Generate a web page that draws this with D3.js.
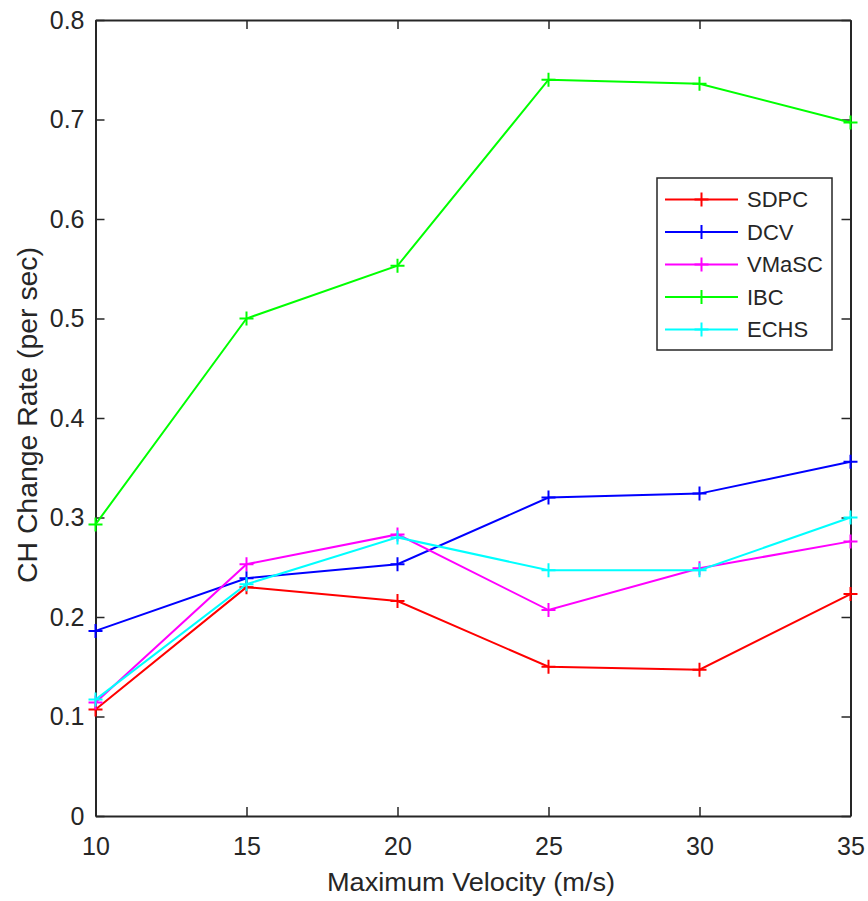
<!DOCTYPE html>
<html><head><meta charset="utf-8">
<script src="https://cdn.jsdelivr.net/npm/d3@7"></script>
<style>body{margin:0;background:#fff}svg{display:block}text{font-family:"Liberation Sans",Arial,Helvetica,sans-serif;fill:#262626}</style>
</head><body><svg id="c" width="868" height="901"></svg>
<script>
const velocities = [10, 15, 20, 25, 30, 35];
const seriesNames = ["SDPC", "DCV", "VMaSC", "IBC", "ECHS"];
const seriesColors = ["#ff0000", "#0000ff", "#ff00ff", "#00ff00", "#00ffff"];
const sdpc  = [0.107, 0.230, 0.216, 0.150, 0.147, 0.223];
const dcv   = [0.186, 0.239, 0.253, 0.320, 0.324, 0.356];
const vmasc = [0.114, 0.253, 0.283, 0.207, 0.249, 0.276];
const ibc   = [0.293, 0.500, 0.553, 0.740, 0.736, 0.697];
const echs  = [0.117, 0.233, 0.280, 0.247, 0.247, 0.300];
const xTicks = [10, 15, 20, 25, 30, 35];
const yTicks = [0, 0.1, 0.2, 0.3, 0.4, 0.5, 0.6, 0.7, 0.8];
const xTitle = "Maximum Velocity (m/s)";
const yTitle = "CH Change Rate (per sec)";

const seriesValues = [sdpc, dcv, vmasc, ibc, echs];
const svg = d3.select("#c");
const L = 95.5, R = 850.5, T = 20, B = 816;
const x = d3.scaleLinear().domain([10, 35]).range([L, R]);
const y = d3.scaleLinear().domain([0, 0.8]).range([B, T]);
const axisColor = "#262626";

// axes (ticks inward)
const gB = svg.append("g").attr("transform", `translate(0,${B})`)
  .call(d3.axisBottom(x).tickValues(xTicks).tickSize(-9).tickPadding(20).tickSizeOuter(0).tickFormat(d3.format("d")));
const gT = svg.append("g").attr("transform", `translate(0,${T})`)
  .call(d3.axisTop(x).tickValues(xTicks).tickSize(-9).tickSizeOuter(0).tickFormat(""));
const gL = svg.append("g").attr("transform", `translate(${L},0)`)
  .call(d3.axisLeft(y).tickValues(yTicks).tickSize(-9).tickPadding(11).tickSizeOuter(0).tickFormat(d => d === 0 ? "0" : d3.format(".1f")(d)));
const gR = svg.append("g").attr("transform", `translate(${R},0)`)
  .call(d3.axisRight(y).tickValues(yTicks).tickSize(-9).tickSizeOuter(0).tickFormat(""));
[gB, gT, gL, gR].forEach(g => {
  g.select(".domain").attr("stroke", axisColor).attr("stroke-width", 2);
  g.selectAll(".tick line").attr("stroke", axisColor).attr("stroke-width", 1.5);
  g.selectAll(".tick text").attr("font-size", 25).attr("fill", axisColor)
    .style("font-family", '"Liberation Sans",Arial,sans-serif');
});
gB.selectAll(".tick text").attr("dy", "0.71em").attr("y", 21);

// lines & markers
const line = d3.line().x((d, i) => x(velocities[i])).y(d => y(d));
const plot = svg.append("g");
seriesValues.forEach((vals, s) => {
  plot.append("path").datum(vals).attr("d", line).attr("fill", "none")
    .attr("stroke", seriesColors[s]).attr("stroke-width", 2);
  plot.selectAll(null).data(vals).enter().append("path")
    .attr("d", (d, i) => { const cx = x(velocities[i]), cy = y(d), h = 7;
      return `M${cx - h},${cy}H${cx + h}M${cx},${cy - h}V${cy + h}`; })
    .attr("stroke", seriesColors[s]).attr("stroke-width", 2).attr("fill", "none");
});

// legend
const lg = svg.append("g");
lg.append("rect").attr("x", 657).attr("y", 178).attr("width", 175).attr("height", 172)
  .attr("fill", "#fff").attr("stroke", axisColor).attr("stroke-width", 1.5);
seriesNames.forEach((n, s) => {
  const cy = 199.5 + s * 32.5;
  lg.append("line").attr("x1", 665).attr("x2", 738).attr("y1", cy).attr("y2", cy)
    .attr("stroke", seriesColors[s]).attr("stroke-width", 2);
  lg.append("path").attr("d", `M${701.5 - 7},${cy}H${701.5 + 7}M701.5,${cy - 7}V${cy + 7}`)
    .attr("stroke", seriesColors[s]).attr("stroke-width", 2);
  lg.append("text").attr("x", 747).attr("y", cy).attr("dy", "0.36em").attr("font-size", 22).text(n);
});

// titles
svg.append("text").attr("x", 471).attr("y", 891).attr("text-anchor", "middle")
  .attr("font-size", 26).attr("textLength", 288).attr("lengthAdjust", "spacingAndGlyphs").text(xTitle);
svg.append("text").attr("transform", "translate(37,415) rotate(-90)").attr("text-anchor", "middle")
  .attr("font-size", 27).attr("textLength", 336).attr("lengthAdjust", "spacingAndGlyphs").text(yTitle);
</script></body></html>
